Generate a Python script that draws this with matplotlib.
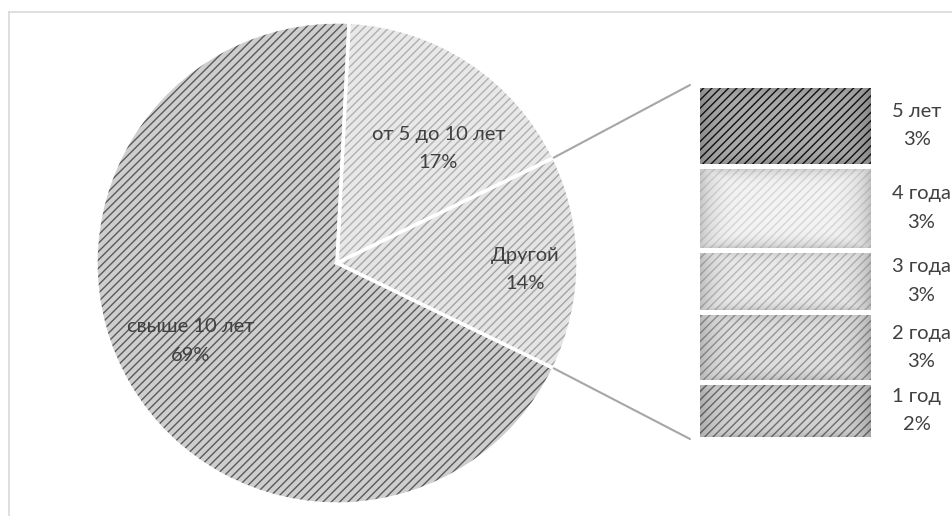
import matplotlib.pyplot as plt
import numpy as np
from matplotlib.patches import ConnectionPatch
from matplotlib.lines import Line2D

plt.rcParams['font.family'] = ['Lato', 'DejaVu Sans']
plt.rcParams['hatch.linewidth'] = 1.0

# data
pie_labels = ['Другой', 'от 5 до 10 лет', 'свыше 10 лет']
pie_values = [14.4, 17.0, 68.6]
pie_face = ['#e4e4e4', '#e8e8e8', '#cecece']
pie_hatch = ['#a4a4a4', '#b0b0b0', '#5a5a5a']

bar_labels = ['1 год', '2 года', '3 года', '4 года', '5 лет']
bar_values = [2.3, 2.85, 2.55, 3.4, 3.3]
bar_face = ['#d2d2d2', '#dedede', '#e9e9e9', '#f3f3f3', '#aaaaaa']
bar_hatch = ['#6e6e6e', '#949494', '#b8b8b8', '#d6d6d6', '#121212']

txt = '#404040'
W, H = 952, 516

fig = plt.figure(figsize=(W / 100, H / 100), dpi=100)
ax = fig.add_axes([0, 0, 1, 1])

cx, cy, R = 337, H - 263, 241
start = -pie_values[0] * 3.6 / 2

wedges, _ = ax.pie(pie_values, center=(cx, cy), radius=R, startangle=start,
                   colors=pie_face, hatch='////', frame=True,
                   wedgeprops=dict(linewidth=0))
for w, hc in zip(wedges, pie_hatch):
    w.set_edgecolor(hc)
# white separators
ax.pie(pie_values, center=(cx, cy), radius=R, startangle=start,
       colors=['none'] * 3, frame=True,
       wedgeprops=dict(linewidth=2.4, edgecolor='white', fill=False))

# label placement: (radius fraction, angle shift)
lab_pos = [(0.78, -2.0), (0.635, -8.0), (0.687, -2.5)]
for w, lab, v, (rf, da) in zip(wedges, pie_labels, pie_values, lab_pos):
    mid = np.deg2rad((w.theta1 + w.theta2) / 2 + da)
    ax.text(cx + rf * R * np.cos(mid), cy + rf * R * np.sin(mid),
            f'{lab}\n{round(v):d}%', ha='center', va='center',
            multialignment='center', fontsize=14.5, color=txt, linespacing=1.8)

ax.set_xlim(0, W)
ax.set_ylim(0, H)
ax.set_aspect('equal')
ax.axis('off')

# chart frame (left and top visible)
fig.add_artist(Line2D([9 / W, 9 / W], [0, 1 - 12 / H], transform=fig.transFigure,
                      color='#d9d9d9', lw=1.2))
fig.add_artist(Line2D([9 / W, 1], [1 - 12 / H, 1 - 12 / H], transform=fig.transFigure,
                      color='#d9d9d9', lw=1.2))

# secondary bar
bx = fig.add_axes([697 / W, (H - 439) / H, 176 / W, (439 - 85) / H])
total = sum(bar_values)
# soft darkening toward the edges of each block
gx = np.linspace(-1, 1, 120)
bottom = 0
for lab, v, fc, hc in zip(bar_labels, bar_values, bar_face, bar_hatch):
    bx.bar(0, v, bottom=bottom, width=1, color=fc, edgecolor=hc, hatch='////', linewidth=0)
    gy = np.linspace(-1, 1, 60)
    shade = np.maximum(np.abs(gx)[None, :] ** 6, np.abs(gy)[:, None] ** 6)
    rgba = np.zeros((60, 120, 4))
    rgba[..., 3] = 0.22 * shade
    bx.imshow(rgba, extent=(-0.5, 0.5, bottom, bottom + v), aspect='auto',
              interpolation='bilinear', zorder=2)
    bx.bar(0, v, bottom=bottom, width=1, fill=False, edgecolor='white', linewidth=3.6, zorder=3)
    bx.text(1.108, bottom + v / 2, f'{lab}\n{round(v):d}%', transform=bx.get_yaxis_transform(),
            ha='left', va='center', multialignment='center', fontsize=14.5,
            color=txt, linespacing=1.8, clip_on=False)
    bottom += v
bx.set_xlim(-0.5, 0.5)
bx.set_ylim(0, total)
bx.axis('off')

# connector lines
t1 = np.deg2rad(wedges[0].theta1)
t2 = np.deg2rad(wedges[0].theta2)
off = -7 / 176
for t, yb in [(t2, 1), (t1, 0)]:
    con = ConnectionPatch(xyA=(cx + R * np.cos(t), cy + R * np.sin(t)), coordsA=ax.transData,
                          xyB=(off, yb), coordsB=bx.transAxes, color='#a6a6a6', lw=1.5)
    fig.add_artist(con)

fig.savefig('out.png', dpi=100)
